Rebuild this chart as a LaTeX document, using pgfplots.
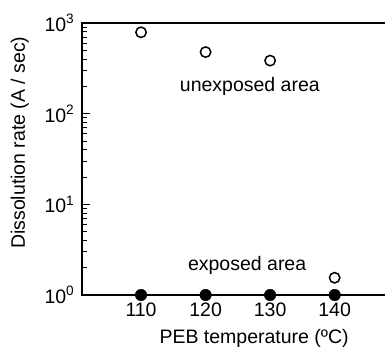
\documentclass[border=0pt]{standalone}
\usepackage{pgfplots}
\pgfplotsset{compat=1.18}
\usepackage{fontspec}
\setmainfont{Liberation Sans}
\begin{document}
\fontsize{19.5}{22}\selectfont
\begin{tikzpicture}
\begin{axis}[
  scale only axis,
  width=303pt, height=272pt,
  ymode=log,
  xmin=100.85, xmax=147.8,
  ymin=1, ymax=1000,
  axis line style={draw=none},
  xtick={110,120,130,140},
  xticklabels={110,120,130,140},
  ytick={1,10,100,1000},
  yticklabels={10\textsuperscript{0},10\textsuperscript{1},10\textsuperscript{2},10\textsuperscript{3}},
  ytick pos=left,
  tick style={draw=none},
  tick label style={font=\fontsize{19.5}{22}\selectfont},
  xticklabel style={yshift=-1pt},
  yticklabel style={xshift=-1pt},
  clip=false,
]
\draw[line width=1.3pt] (rel axis cs:1,1) -- (rel axis cs:0,1) -- (rel axis cs:0,0) -- (rel axis cs:1,0);
\pgfplotsinvokeforeach{2,3,4,5,6,7,8,9,20,30,40,50,60,70,80,90,200,300,400,500,600,700,800,900}{
  \draw[line width=0.9pt] (axis cs:100.85,#1) -- (axis cs:101.7,#1);
}
\pgfplotsinvokeforeach{10,100}{
  \draw[line width=1pt] (axis cs:100.85,#1) -- (axis cs:102.1,#1);
}
\addplot[only marks, mark=o, mark size=5.2pt, mark options={line width=1.5pt, fill=white}] coordinates {
  (110,790) (120,478) (130,385) (140,1.55)
};
\addplot[only marks, mark=*, mark size=5.8pt, black] coordinates {
  (110,1) (120,1) (130,1) (140,1)
};
\node at (axis description cs:0.554,0.768) {unexposed area};
\node at (axis description cs:0.545,0.11) {exposed area};
\node[rotate=90] at (axis description cs:-0.205,0.56) {Dissolution rate (A / sec)};
\node at (axis description cs:0.568,-0.16) {PEB temperature (ºC)};
\end{axis}
\pgfresetboundingbox
\path[use as bounding box] (-82pt,-52pt) rectangle (303pt,295pt);
\end{tikzpicture}
\end{document}
